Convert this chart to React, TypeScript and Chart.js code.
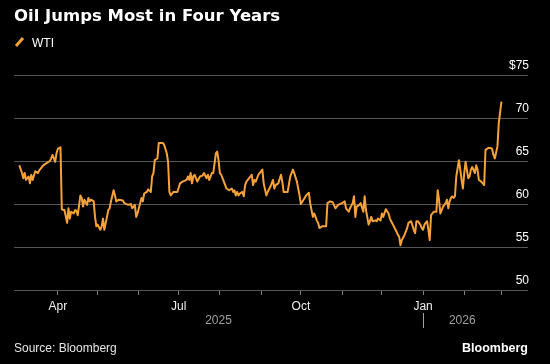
import React, { useEffect, useRef } from 'react';
import { Chart, registerables } from 'chart.js';

Chart.register(...registerables);

// ---- data (days counted from 2025-04-01) ----
const dayOffsets = [
  -29, -27, -26, -25, -24, -22, -21, -20, -19, -17,
  -15, -14, -12, -11, -9, -6, -5, -4, -2, -1,
  0, 2, 3, 4, 5, 7, 8, 9, 10, 12,
  13, 14, 15, 17, 18, 19, 20, 22, 23, 24,
  25, 27, 28, 29, 30, 32, 33, 34, 35, 37,
  38, 39, 40, 42, 43, 44, 46, 49, 50, 53,
  55, 56, 58, 59, 60, 61, 63, 64, 65, 67,
  68, 70, 71, 72, 73, 74, 75, 76, 79, 80,
  82, 83, 84, 85, 87, 89, 90, 92, 94, 97,
  98, 99, 100, 101, 102, 103, 105, 107, 109, 110,
  112, 113, 114, 116, 117, 118, 119, 120, 121, 122,
  123, 124, 126, 127, 129, 131, 132, 133, 134, 135,
  136, 137, 139, 140, 141, 142, 144, 146, 147, 148,
  149, 151, 152, 154, 155, 157, 158, 160, 162, 163,
  164, 166, 168, 169, 170, 172, 173, 175, 176, 177,
  178, 180, 181, 182, 183, 185, 187, 189, 190, 192,
  193, 195, 196, 197, 199, 201, 202, 203, 205, 207,
  209, 211, 214, 216, 217, 219, 220, 222, 223, 224,
  225, 227, 228, 230, 231, 232, 234, 235, 236, 237,
  239, 240, 241, 243, 244, 245, 247, 249, 250, 251,
  253, 254, 255, 256, 257, 258, 259, 261, 263, 264,
  266, 268, 269, 270, 271, 273, 274, 275, 276, 278,
  279, 280, 281, 283, 285, 286, 287, 288, 289, 290,
  292, 293, 294, 295, 296, 297, 298, 299, 300, 302,
  303, 304, 305, 306, 307, 309, 310, 311, 312, 314,
  315, 316, 317, 318, 320, 321, 322, 324, 326, 327,
  328, 329, 331, 332, 334,
];

const wtiValues = [
  64.5, 63.6, 63.0, 63.6, 62.8, 63.2, 62.4, 63.4, 62.8, 63.8,
  63.6, 63.9, 64.3, 64.5, 64.7, 65.0, 65.3, 65.7, 64.9, 65.9,
  66.4, 66.6, 59.4, 59.3, 59.3, 57.8, 59.5, 58.3, 59.1, 58.9,
  59.3, 59.2, 58.7, 61.0, 60.7, 59.7, 60.5, 59.9, 60.7, 60.3,
  60.5, 60.3, 58.5, 57.4, 57.6, 57.0, 57.4, 58.3, 57.0, 58.5,
  59.3, 59.5, 60.3, 61.6, 61.0, 60.3, 60.5, 60.4, 60.1, 59.9,
  60.0, 59.5, 59.9, 58.5, 58.9, 59.5, 60.7, 60.3, 61.2, 61.4,
  61.7, 61.4, 63.2, 63.6, 65.1, 65.2, 65.3, 67.1, 67.1, 66.9,
  65.9, 64.9, 61.4, 61.0, 61.4, 61.4, 61.4, 62.4, 62.6, 62.8,
  63.2, 62.8, 63.6, 62.4, 63.2, 63.4, 62.6, 63.2, 63.3, 63.6,
  63.0, 63.4, 62.8, 63.6, 63.6, 64.7, 65.9, 66.1, 65.1, 63.6,
  63.4, 63.0, 62.2, 61.8, 61.6, 61.8, 61.4, 61.6, 61.0, 61.4,
  61.0, 61.2, 61.4, 60.9, 62.2, 62.6, 63.0, 63.4, 62.2, 62.8,
  62.6, 63.4, 63.6, 64.0, 62.4, 61.0, 61.4, 62.0, 62.8, 61.8,
  62.2, 62.4, 63.4, 62.6, 61.4, 61.4, 61.4, 63.2, 63.6, 64.0,
  63.6, 62.6, 61.8, 61.0, 60.0, 60.5, 61.0, 61.3, 60.1, 58.5,
  58.9, 58.1, 57.8, 57.2, 57.4, 57.4, 57.4, 60.1, 60.3, 60.2,
  59.5, 59.9, 60.1, 60.3, 59.5, 59.1, 59.5, 60.1, 60.9, 58.5,
  59.7, 59.9, 60.1, 59.1, 60.9, 59.3, 57.6, 58.0, 58.5, 58.0,
  58.1, 58.0, 58.3, 58.1, 58.9, 58.5, 59.4, 58.9, 58.3, 58.0,
  57.4, 57.1, 56.8, 56.4, 56.2, 55.2, 55.8, 56.4, 57.2, 57.8,
  58.0, 57.0, 56.6, 58.0, 58.0, 57.6, 57.2, 57.0, 57.6, 58.0,
  57.0, 55.8, 58.7, 59.1, 59.1, 61.6, 60.5, 58.9, 59.3, 59.7,
  60.1, 60.5, 59.5, 60.3, 60.7, 60.9, 60.7, 60.9, 63.2, 65.1,
  64.0, 62.8, 61.8, 63.6, 64.9, 63.0, 63.2, 64.0, 64.3, 63.6,
  64.5, 64.0, 62.8, 62.7, 62.4, 62.2, 66.3, 66.5, 66.5, 66.4,
  65.7, 65.3, 66.7, 69.4, 71.9,
];

// month starts (days from 2025-04-01): Apr..Mar
const monthTickDays = [0, 30, 61, 91, 122, 153, 183, 214, 244, 275, 306, 334];
const monthTickLabels = ['Apr', '', '', 'Jul', '', '', 'Oct', '', '', 'Jan', '', ''];
const yTickValues = [50, 55, 60, 65, 70, 75];
const yearLabels = ['2025', '2026'];
const yearBoundaryDay = 275; // 2026-01-01
const xMinDay = -33;
const xMaxDay = 354;

const TITLE = 'Oil Jumps Most in Four Years';
const SERIES = 'WTI';
const SOURCE = 'Source: Bloomberg';
const BRAND = 'Bloomberg';

const ORANGE = '#f7a139';
const SANS = '"Liberation Sans", Arial, sans-serif';

const textPlugin = {
  id: 'texts',
  afterDraw(chart: any) {
    const ctx = chart.ctx;
    const xs = chart.scales.x;
    ctx.save();
    // title
    ctx.fillStyle = '#ffffff';
    ctx.font = 'bold 16.5px "DejaVu Sans", sans-serif';
    ctx.textAlign = 'left';
    ctx.textBaseline = 'alphabetic';
    ctx.fillText(TITLE, 14, 21);
    // legend
    ctx.strokeStyle = ORANGE;
    ctx.lineWidth = 3;
    ctx.beginPath();
    ctx.moveTo(16, 46);
    ctx.lineTo(23, 38);
    ctx.stroke();
    ctx.fillStyle = '#ffffff';
    ctx.font = `12px ${SANS}`;
    ctx.fillText(SERIES, 32, 47);
    // year labels
    const xStart = xs.getPixelForValue(xs.min);
    const xBound = xs.getPixelForValue(yearBoundaryDay);
    const xEnd = xs.getPixelForValue(dayOffsets[dayOffsets.length - 1]);
    ctx.fillStyle = '#a0a0a0';
    ctx.textAlign = 'center';
    ctx.textBaseline = 'middle';
    ctx.fillText(yearLabels[0], (xStart + xBound) / 2, 321);
    ctx.fillText(yearLabels[1], (xBound + xEnd) / 2, 321);
    ctx.strokeStyle = '#a0a0a0';
    ctx.lineWidth = 1;
    ctx.beginPath();
    ctx.moveTo(Math.round(xBound) + 0.5, 313);
    ctx.lineTo(Math.round(xBound) + 0.5, 328);
    ctx.stroke();
    // source
    ctx.fillStyle = '#e6e6e6';
    ctx.textAlign = 'left';
    ctx.textBaseline = 'alphabetic';
    ctx.font = `12px ${SANS}`;
    ctx.fillText(SOURCE, 14, 352);
    ctx.fillStyle = '#ffffff';
    ctx.textAlign = 'right';
    ctx.font = `bold 12.5px ${SANS}`;
    ctx.fillText(BRAND, 528, 352);
    ctx.restore();
  },
};

export default function App() {
  const ref = useRef<HTMLCanvasElement | null>(null);
  useEffect(() => {
    if (!ref.current) return;
    const chart = new Chart(ref.current, {
      type: 'line',
      data: {
        datasets: [
          {
            label: SERIES,
            data: dayOffsets.map((d, i) => ({ x: d, y: wtiValues[i] })),
            borderColor: ORANGE,
            borderWidth: 2,
            pointRadius: 0,
            tension: 0,
            borderJoinStyle: 'round',
          } as any,
        ],
      },
      options: {
        animation: false,
        responsive: false,
        maintainAspectRatio: false,
        layout: { padding: { left: 14, right: 22, top: 75, bottom: 0 } },
        plugins: { legend: { display: false }, tooltip: { enabled: false } },
        scales: {
          x: {
            type: 'linear',
            min: xMinDay,
            max: xMaxDay,
            afterBuildTicks: (s: any) => {
              s.ticks = monthTickDays.map((v) => ({ value: v }));
            },
            afterFit: (s: any) => {
              s.height = 74;
            },
            grid: { drawOnChartArea: false, drawTicks: true, tickLength: 5, color: '#808080' },
            border: { display: false },
            ticks: {
              autoSkip: false,
              maxRotation: 0,
              padding: 4,
              color: '#f0f0f0',
              font: { family: SANS, size: 12 },
              callback: (_v: any, i: number) => monthTickLabels[i],
            },
          },
          y: {
            position: 'right',
            min: 50,
            max: 75,
            afterBuildTicks: (s: any) => {
              s.ticks = yTickValues.map((v) => ({ value: v }));
            },
            afterFit: (s: any) => {
              s.width = 0;
            },
            grid: { color: '#555555', drawTicks: false },
            border: { display: false },
            ticks: {
              mirror: true,
              padding: 1,
              labelOffset: -9,
              color: '#ffffff',
              font: { family: SANS, size: 12 },
              callback: (v: any) => (v === 75 ? '$75' : String(v)),
            },
          },
        },
      } as any,
      plugins: [textPlugin],
    });
    return () => chart.destroy();
  }, []);
  return (
    <div style={{ position: 'fixed', left: 0, top: 0, width: 550, height: 364, background: '#000' }}>
      <canvas ref={ref} width={550} height={364} style={{ display: 'block' }} />
    </div>
  );
}
